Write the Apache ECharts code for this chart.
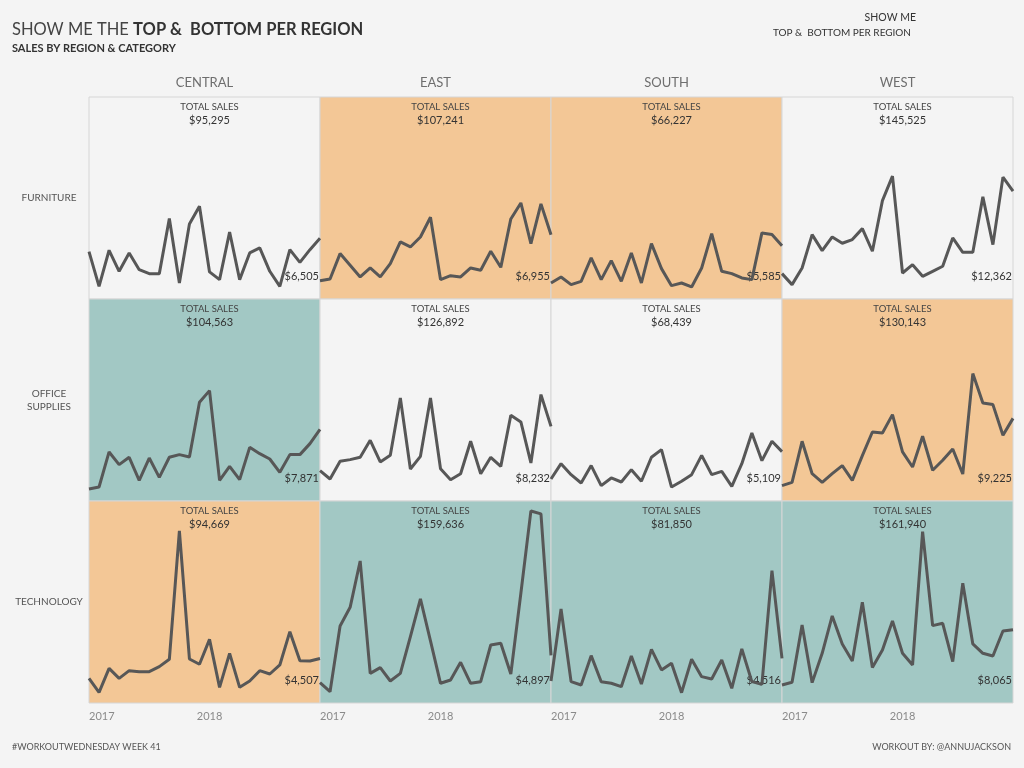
<!DOCTYPE html>
<html><head><meta charset="utf-8">
<script src="https://cdn.jsdelivr.net/npm/echarts@6/dist/echarts.min.js"></script>
<style>html,body{margin:0;padding:0;background:#f4f4f4;}#c{width:1024px;height:768px;}</style>
</head><body><div id="c"></div>
<script>
const months = ['2017-01','2017-02','2017-03','2017-04','2017-05','2017-06','2017-07','2017-08','2017-09','2017-10','2017-11','2017-12',
                '2018-01','2018-02','2018-03','2018-04','2018-05','2018-06','2018-07','2018-08','2018-09','2018-10','2018-11','2018-12'];
const regions = ['CENTRAL','EAST','SOUTH','WEST'];
const categories = ['FURNITURE','OFFICE\nSUPPLIES','TECHNOLOGY'];
const yearTicks = ['2017','2018'];

// Monthly sales, Furniture
const centralFurniture = [4870,570,5030,2430,4700,2630,2140,2140,8950,980,8290,10480,2350,1400,7300,1400,4700,5320,2430,570,5110,3540,5110,6505];
const eastFurniture    = [1270,1480,4620,3170,1730,2840,1730,3380,6060,5440,6680,9120,1400,1890,1730,2840,2550,4910,2920,8910,10890,5860,10770,6955];
const southFurniture   = [980,1730,780,1190,4080,1400,3750,1190,4700,980,5860,2760,650,980,490,2840,7100,2430,2140,1600,1400,7180,6970,5585];
const westFurniture    = [2140,780,2840,6970,4990,6680,5900,6350,7710,4910,11180,14200,2220,3250,1810,2430,3050,6560,4780,4780,11640,5730,14080,12362];
// Monthly sales, Office Supplies
const centralOffice = [490,730,5070,3500,4410,1560,4320,1930,4410,4740,4450,11220,12660,1560,3290,1640,5640,4860,4200,2550,4740,4740,6100,7871];
const eastOffice    = [2760,1720,3910,4120,4410,6510,3830,4650,11750,2960,4530,11750,3000,1640,2380,6390,2380,4410,3290,9610,8780,3710,12170,8232];
const southOffice   = [1720,3620,2260,1230,3380,900,1850,1350,2880,1440,4410,5360,730,1440,2260,4650,2260,2670,820,3620,7420,3990,6390,5109];
const westOffice    = [900,1310,6390,2380,1310,2380,3380,1560,4610,7540,7420,9690,5070,3210,7010,2800,4040,5440,2340,14770,11130,10930,7130,9225];
// Monthly sales, Technology
const centralTech = [2050,320,3290,2050,3000,2880,2880,3500,4410,20300,4450,3790,6880,940,5150,940,1720,3000,2590,3710,7830,4240,4200,4507];
const eastTech    = [1520,400,8530,10840,16580,2670,3380,1720,2670,7210,11880,6680,1440,1850,4040,1440,1640,6180,6390,2590,12580,22770,22400,4897];
const southTech   = [1720,10640,1640,1230,4860,1640,1440,1020,4820,1350,5640,3090,3910,280,4410,2260,1970,4320,820,5690,1640,1310,15380,4516];
const westTech    = [1230,1560,8660,1520,5150,9770,6310,4200,11460,3380,5560,9150,5150,3710,20210,8580,8860,4120,13820,6310,5150,4820,7910,8065];

// Total sales shown in each cell
const totalsFurniture = [95295,107241,66227,145525];
const totalsOffice    = [104563,126892,68439,130143];
const totalsTech      = [94669,159636,81850,161940];

const seriesGrid = [
  [centralFurniture, eastFurniture, southFurniture, westFurniture],
  [centralOffice, eastOffice, southOffice, westOffice],
  [centralTech, eastTech, southTech, westTech]
];
const totalsGrid = [totalsFurniture, totalsOffice, totalsTech];

const FONT = 'Lato, "Noto Sans", sans-serif';
const BG = '#f4f4f4', TOPC = '#a2c8c4', BOTC = '#f3c796';
const colLeft = [89, 320, 551, 782], colW = 231;
const rowTop = [97, 299, 501], rowH = 202;

const fmt = v => '$' + v.toLocaleString('en-US');

const grids = [], xAxes = [], yAxes = [], series = [], graphics = [];
for (let r = 0; r < 3; r++) {
  for (let c = 0; c < 4; c++) {
    const i = r * 4 + c;
    // colour: for each region, highest category = teal, lowest = orange
    const colTotals = totalsGrid.map(t => t[c]);
    const v = totalsGrid[r][c];
    let bg = BG;
    if (v === Math.max(...colTotals)) bg = TOPC;
    else if (v === Math.min(...colTotals)) bg = BOTC;
    grids.push({left: colLeft[c], top: rowTop[r], width: colW, height: rowH,
      show: true, backgroundColor: bg, borderColor: '#d6d6d6', borderWidth: 1});
    xAxes.push({type: 'category', gridIndex: i, data: months, boundaryGap: false,
      axisLine: {show: false}, axisTick: {show: false}, splitLine: {show: false},
      axisLabel: {show: r === 2, interval: (idx) => idx === 0 || idx === 12,
        formatter: (val) => yearTicks[yearTicks.indexOf(val.slice(0,4))],
        alignMinLabel: 'left', color: '#8a8a8a', fontSize: 11, fontFamily: FONT, margin: 8}});
    yAxes.push({type: 'value', gridIndex: i, min: -1000, max: 24000, show: false, splitLine: {show: false}});
    const data = seriesGrid[r][c];
    series.push({type: 'line', xAxisIndex: i, yAxisIndex: i, data: data, symbol: 'none',
      lineStyle: {color: '#575757', width: 3}, silent: true, animation: false});
    const cx = colLeft[c] + colW / 2 + 5;
    graphics.push({type: 'text', x: cx, y: rowTop[r] + 10, style: {text: 'TOTAL SALES', fill: '#444',
      font: '9.5px ' + FONT, textAlign: 'center', textVerticalAlign: 'middle'}});
    graphics.push({type: 'text', x: cx, y: rowTop[r] + 23, style: {text: fmt(v), fill: '#333',
      font: '11px ' + FONT, textAlign: 'center', textVerticalAlign: 'middle'}});
    graphics.push({type: 'text', x: colLeft[c] + colW - 1, y: rowTop[r] + rowH - 23, style: {text: fmt(data[data.length - 1]), fill: '#333',
      font: '11px ' + FONT, textAlign: 'right', textVerticalAlign: 'middle'}});
  }
}
regions.forEach((name, c) => graphics.push({type: 'text', x: colLeft[c] + colW / 2, y: 83,
  style: {text: name, fill: '#6e6e6e', font: '13px ' + FONT, textAlign: 'center', textVerticalAlign: 'middle'}}));
categories.forEach((name, r) => graphics.push({type: 'text', x: 49, y: rowTop[r] + rowH / 2,
  style: {text: name, fill: '#555', font: '10px ' + FONT, textAlign: 'center', textVerticalAlign: 'middle', lineHeight: 13}}));

graphics.push({type: 'text', x: 12, y: 30, style: {
  text: '{a|SHOW ME THE }{b|TOP &  BOTTOM PER REGION}', textVerticalAlign: 'middle',
  rich: {a: {fontSize: 16.5, fontFamily: FONT, fill: '#444', color: '#444'},
         b: {fontSize: 16.5, fontFamily: FONT, fontWeight: 'bold', fill: '#333', color: '#333'}}}});
graphics.push({type: 'text', x: 12, y: 48, style: {text: 'SALES BY REGION & CATEGORY', fill: '#333',
  font: 'bold 11px ' + FONT, textVerticalAlign: 'middle'}});
graphics.push({type: 'text', x: 916, y: 18, style: {text: 'SHOW ME', fill: '#333', font: '10.5px ' + FONT, textAlign: 'right', textVerticalAlign: 'middle'}});
graphics.push({type: 'text', x: 911, y: 33, style: {text: 'TOP &  BOTTOM PER REGION', fill: '#333', font: '10px ' + FONT, textAlign: 'right', textVerticalAlign: 'middle'}});
graphics.push({type: 'text', x: 12, y: 747, style: {text: '#WORKOUTWEDNESDAY WEEK 41', fill: '#555', font: '9px ' + FONT, textVerticalAlign: 'middle'}});
graphics.push({type: 'text', x: 1011, y: 747, style: {text: 'WORKOUT BY: @ANNUJACKSON', fill: '#555', font: '9px ' + FONT, textAlign: 'right', textVerticalAlign: 'middle'}});

const chart = echarts.init(document.getElementById('c'), null, {renderer: 'canvas'});
chart.setOption({backgroundColor: BG, animation: false, grid: grids, xAxis: xAxes, yAxis: yAxes, series: series, graphic: graphics});
</script></body></html>
